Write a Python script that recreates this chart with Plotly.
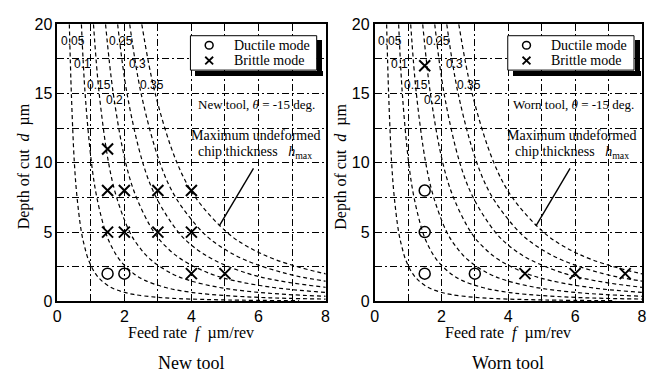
import plotly.graph_objects as go

# ---------------- data ----------------
# depth-of-cut levels (µm) at which the h_max curves were read
d_levels = [20, 15, 10, 7.5, 5, 4, 3, 2, 1.5, 1, 0.7, 0.5, 0.3, 0.2, 0.1, 0.05]
hmax_labels = ["0.05", "0.1", "0.15", "0.2", "0.25", "0.3", "0.35"]
# feed rate (µm/rev) of each constant-h_max curve at the depth levels above
f_005 = [0.36, 0.42, 0.51, 0.59, 0.72, 0.81, 0.93, 1.14, 1.32, 1.61, 1.93, 2.28, 2.94, 3.61, 5.10, 7.21]
f_010 = [0.72, 0.83, 1.02, 1.18, 1.44, 1.61, 1.86, 2.28, 2.63, 3.23, 3.86, 4.56, 5.89, 7.21, 10.2]
f_015 = [1.08, 1.25, 1.53, 1.77, 2.16, 2.42, 2.79, 3.42, 3.95, 4.84, 5.78, 6.84, 8.83, 10.8]
f_020 = [1.44, 1.67, 2.04, 2.36, 2.88, 3.22, 3.72, 4.56, 5.27, 6.45, 7.71, 9.12, 11.8]
f_025 = [1.80, 2.08, 2.55, 2.95, 3.61, 4.03, 4.66, 5.70, 6.58, 8.06, 9.64]
f_030 = [2.16, 2.50, 3.06, 3.53, 4.33, 4.84, 5.59, 6.84, 7.90, 9.68]
f_035 = [2.52, 2.92, 3.57, 4.12, 5.05, 5.64, 6.52, 7.98, 9.22]
curve_f = [f_005, f_010, f_015, f_020, f_025, f_030, f_035]
# label anchor points of the curves (f, d)
label_f = [0.47, 0.76, 1.25, 1.72, 1.89, 2.38, 2.82]
label_d = [18.8, 17.1, 15.65, 14.5, 18.8, 17.1, 15.65]

# New tool experiments
new_ductile_f = [1.5, 2]
new_ductile_d = [2, 2]
new_brittle_f = [1.5, 1.5, 2, 3, 4, 1.5, 2, 3, 4, 4, 5]
new_brittle_d = [11, 8, 8, 8, 8, 5, 5, 5, 5, 2, 2]
# Worn tool experiments
worn_ductile_f = [1.5, 1.5, 1.5, 3]
worn_ductile_d = [8, 5, 2, 2]
worn_brittle_f = [1.5, 4.5, 6, 7.5]
worn_brittle_d = [17, 2, 2, 2]

legend_names = ["Ductile mode", "Brittle mode"]
panel_titles = ["New tool", "Worn tool"]
state_texts = ["New tool, <i>θ</i> = -15 deg.", "Worn tool, <i>θ</i> = -15 deg."]

# ---------------- figure ----------------
W, H = 662, 383
SERIF = "Liberation Serif, Times New Roman, serif"
SANS = "Liberation Sans, Arial, sans-serif"


def px(x):
    """figure x (px) -> paper fraction"""
    return x / W


def py(y):
    """figure y (px, from top) -> paper fraction"""
    return 1 - y / H


fig = go.Figure()

panels = [
    dict(sx="", ductile=(new_ductile_f, new_ductile_d), brittle=(new_brittle_f, new_brittle_d),
         left=54.0, right=326.0),
    dict(sx="2", ductile=(worn_ductile_f, worn_ductile_d), brittle=(worn_brittle_f, worn_brittle_d),
         left=375.7, right=646.7),
]

for p in panels:
    xa, ya = "x" + p["sx"], "y" + p["sx"]
    for fs in curve_f:
        fig.add_trace(go.Scatter(
            x=fs, y=d_levels[:len(fs)], mode="lines",
            line=dict(color="black", width=1.2, dash="4px,3px", shape="spline"),
            xaxis=xa, yaxis=ya, showlegend=False, hoverinfo="skip"))
    fig.add_trace(go.Scatter(
        x=p["ductile"][0], y=p["ductile"][1], mode="markers", name=legend_names[0],
        marker=dict(symbol="circle-open", size=11, color="black", line=dict(width=1.5, color="black")),
        xaxis=xa, yaxis=ya, showlegend=False))
    fig.add_trace(go.Scatter(
        x=p["brittle"][0], y=p["brittle"][1], mode="markers", name=legend_names[1],
        marker=dict(symbol="x-thin-open", size=11, color="black", line=dict(width=2, color="black")),
        xaxis=xa, yaxis=ya, showlegend=False))

ydom = (py(307), py(17))
gdash = "7px,3px,2px,3px"


def xaxis_cfg(p):
    return dict(domain=(px(p["left"]), px(p["right"])), range=[0, 8], tick0=0, dtick=2,
                showgrid=True, gridcolor="black", gridwidth=1, griddash=gdash,
                minor=dict(dtick=1, showgrid=True, gridcolor="black", gridwidth=1, griddash=gdash),
                showline=True, mirror=True, linecolor="black", linewidth=1.5, zeroline=False,
                ticks="", tickfont=dict(family=SANS, size=16, color="black"), fixedrange=True)


def yaxis_cfg(anchor):
    return dict(domain=ydom, range=[0, 20], tick0=0, dtick=5, showgrid=True, gridcolor="black",
                gridwidth=1, griddash=gdash, anchor=anchor,
                minor=dict(dtick=2.5, showgrid=True, gridcolor="black", gridwidth=1, griddash=gdash),
                showline=True, mirror=True, linecolor="black", linewidth=1.5, zeroline=False,
                ticks="", tickfont=dict(family=SANS, size=16, color="black"), fixedrange=True)


annotations = []
shapes = []
for i, p in enumerate(panels):
    xa, ya = "x" + p["sx"], "y" + p["sx"]
    left = p["left"]
    xc = (px(p["left"]) + px(p["right"])) / 2
    # curve labels
    for lab, lf, ld in zip(hmax_labels, label_f, label_d):
        annotations.append(dict(x=lf, y=ld, xref=xa, yref=ya, text=lab, showarrow=False,
                                xanchor="center", yanchor="middle",
                                font=dict(family=SANS, size=12, color="black")))
    # state text
    annotations.append(dict(x=5.95, y=14.2, xref=xa, yref=ya, text=state_texts[i], showarrow=False,
                            xanchor="center", yanchor="middle",
                            font=dict(family=SERIF, size=13, color="black")))
    annotations.append(dict(x=5.9, y=12.0, xref=xa, yref=ya, text="Maximum undeformed",
                            xanchor="center", yanchor="middle",
                            showarrow=False, font=dict(family=SERIF, size=14, color="black")))
    annotations.append(dict(x=5.9, y=10.75, xref=xa, yref=ya,
                            text="chip thickness   <i>h</i><sub>max</sub>",
                            xanchor="center", yanchor="middle",
                            showarrow=False, font=dict(family=SERIF, size=14, color="black")))
    # pointer line
    shapes.append(dict(type="line", xref=xa, yref=ya, x0=5.85, y0=9.6, x1=4.83, y1=5.45,
                       line=dict(color="black", width=1.4)))
    # axis titles
    annotations.append(dict(x=xc, y=py(340), xref="paper", yref="paper",
                            xanchor="center", yanchor="middle",
                            text="Feed rate  <i>f</i>  µm/rev", showarrow=False,
                            font=dict(family=SERIF, size=16, color="black")))
    annotations.append(dict(x=px(left - 34), y=py(166), xref="paper", yref="paper",
                            xanchor="center", yanchor="middle",
                            text="Depth of cut  <i>d</i>  µm", textangle=-90, showarrow=False,
                            font=dict(family=SERIF, size=16, color="black")))
    annotations.append(dict(x=xc, y=py(372), xref="paper", yref="paper",
                            xanchor="center", yanchor="middle",
                            text=panel_titles[i], showarrow=False,
                            font=dict(family=SERIF, size=18, color="black")))
    # legend box
    bx0, bx1, by0, by1 = left + 135, left + 263, 29, 65
    off = 5
    shapes.append(dict(type="rect", xref="paper", yref="paper",
                       x0=px(bx0), x1=px(bx1), y0=py(by1), y1=py(by0),
                       fillcolor="white", line=dict(width=1, color="black"), layer="above"))
    # drop shadow: two black bands drawn as boxes above everything
    annotations.append(dict(x=px(bx1 + 0.5), y=py(by0 + off), xref="paper", yref="paper",
                            xanchor="left", yanchor="top", text=" ", showarrow=False,
                            width=off, height=by1 - by0, bgcolor="black", borderpad=0,
                            borderwidth=0, font=dict(size=1, color="black")))
    annotations.append(dict(x=px(bx0 + off), y=py(by1 + 0.5), xref="paper", yref="paper",
                            xanchor="left", yanchor="top", text=" ", showarrow=False,
                            width=bx1 - bx0, height=off, bgcolor="black", borderpad=0,
                            borderwidth=0, font=dict(size=1, color="black")))
    sx = bx0 + 19
    shapes.append(dict(type="circle", xref="paper", yref="paper",
                       x0=px(sx - 4), x1=px(sx + 4), y0=py(39 + 4), y1=py(39 - 4),
                       line=dict(width=1.5, color="black"), layer="above"))
    for (ax0, ay0, ax1, ay1) in [(sx - 4, 51, sx + 4, 59), (sx - 4, 59, sx + 4, 51)]:
        shapes.append(dict(type="line", xref="paper", yref="paper",
                           x0=px(ax0), y0=py(ay0), x1=px(ax1), y1=py(ay1),
                           line=dict(width=1.8, color="black"), layer="above"))
    for name, yy in zip(legend_names, [39, 55]):
        annotations.append(dict(x=px(bx0 + 42), y=py(yy), xref="paper", yref="paper",
                                xanchor="left", yanchor="middle", text=name, showarrow=False,
                                font=dict(family=SERIF, size=14, color="black")))

fig.update_layout(
    width=W, height=H, margin=dict(l=0, r=0, t=0, b=0),
    paper_bgcolor="white", plot_bgcolor="white",
    xaxis=xaxis_cfg(panels[0]), yaxis=yaxis_cfg("x"),
    xaxis2=xaxis_cfg(panels[1]), yaxis2=yaxis_cfg("x2"),
    annotations=annotations, shapes=shapes,
    showlegend=False,
)

fig.write_html("out.html", config={"displayModeBar": False},
               post_script="document.body.style.margin='0';")
